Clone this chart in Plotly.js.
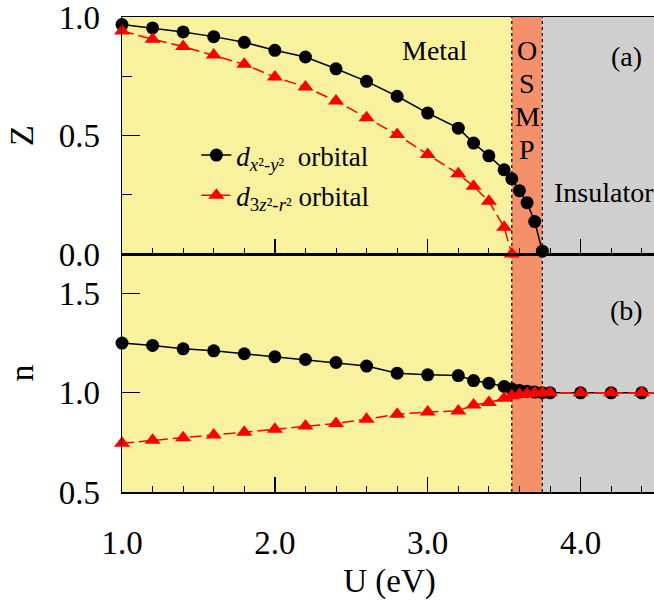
<!DOCTYPE html>
<html>
<head>
<meta charset="utf-8">
<script src="https://cdn.plot.ly/plotly-3.0.1.min.js"></script>
<style>html,body{margin:0;padding:0;overflow:hidden;background:#fff;}</style>
</head>
<body>
<div id="chart"></div>
<script>
// ---- data ----
const U_Z_dx = [1.0,1.2,1.4,1.6,1.8,2.0,2.2,2.4,2.6,2.8,3.0,3.2,3.3,3.4,3.5,3.55,3.6,3.65,3.7,3.75];
const Z_dx   = [0.970,0.956,0.939,0.919,0.895,0.861,0.833,0.783,0.730,0.667,0.596,0.532,0.469,0.415,0.356,0.318,0.268,0.217,0.137,0.012];
const U_Z_d3 = [1.0,1.2,1.4,1.6,1.8,2.0,2.2,2.4,2.6,2.8,3.0,3.2,3.3,3.4,3.5,3.55];
const Z_d3   = [0.943,0.908,0.877,0.841,0.802,0.748,0.706,0.647,0.576,0.505,0.421,0.339,0.286,0.223,0.113,0.0];

const U_n  = [1.0,1.2,1.4,1.6,1.8,2.0,2.2,2.4,2.6,2.8,3.0,3.2,3.3,3.4,3.5,3.55,3.6,3.65,3.7,3.75,3.8,4.0,4.2,4.4,4.6];
const n_dx = [1.251,1.239,1.222,1.212,1.197,1.182,1.168,1.153,1.135,1.099,1.091,1.087,1.062,1.049,1.032,1.019,1.012,1.008,1.004,1.001,1.0,1.0,1.0,1.0,1.0];
const n_d3 = [0.746,0.761,0.774,0.788,0.801,0.817,0.833,0.846,0.867,0.892,0.904,0.909,0.939,0.951,0.973,0.985,0.992,0.996,0.999,1.0,1.0,1.0,1.0,1.0,1.0];

const phaseBounds = [1.0, 3.55, 3.75, 4.6];   // Metal | OSMP | Insulator
const phaseColors = ['#F8F29E', '#F4916B', '#CFCFCF'];
const osmpLetters = ['O','S','M','P'];

const xTickVals = [1.0, 2.0, 3.0, 4.0];
const zTickVals = [0.0, 0.5, 1.0];
const nTickVals = [0.5, 1.0, 1.5];

const FONT = 'Liberation Serif, Times New Roman, serif';

const nameDx = '<i>d</i><sub><i>x</i>²-<i>y</i>²</sub>  orbital';
const nameD3 = '<i>d</i><sub>3<i>z</i>²-<i>r</i>²</sub> orbital';

const blackLine = {color:'#000', width:1.5};
const redLine = {color:'#FF0000', width:1.5, dash:'12px,5px'};
const circ = {symbol:'circle', size:13, color:'#000'};
const tri = {symbol:'triangle-up', size:14, color:'#FF0000'};

const traces = [
  {x:U_Z_dx, y:Z_dx, xaxis:'x', yaxis:'y', mode:'lines+markers', name:nameDx, line:blackLine, marker:circ, cliponaxis:false, legendgroup:'a'},
  {x:U_Z_d3, y:Z_d3, xaxis:'x', yaxis:'y', mode:'lines+markers', name:nameD3, line:redLine, marker:tri, cliponaxis:false, legendgroup:'b'},
  {x:U_n, y:n_dx, xaxis:'x2', yaxis:'y2', mode:'lines+markers', name:nameDx, line:blackLine, marker:circ, cliponaxis:false, showlegend:false},
  {x:U_n, y:n_d3, xaxis:'x2', yaxis:'y2', mode:'lines+markers', name:nameD3, line:redLine, marker:tri, cliponaxis:false, showlegend:false}
];

const shapes = [];
for (let i = 0; i < phaseColors.length; i++) {
  shapes.push({type:'rect', xref:'x', yref:'paper', x0:phaseBounds[i], x1:phaseBounds[i+1], y0:0, y1:1,
               fillcolor:phaseColors[i], line:{width:0}, layer:'below'});
}
[phaseBounds[1], phaseBounds[2]].forEach(b => {
  shapes.push({type:'line', xref:'x', yref:'paper', x0:b, x1:b, y0:0, y1:1,
               line:{color:'#000', width:1.2, dash:'dot'}, layer:'below'});
});

const xCommon = {
  range:[1, 4.5], showgrid:false, zeroline:false,
  showline:true, linecolor:'#000', linewidth:1.5, mirror:true,
  ticks:'inside', ticklen:15, tickwidth:1.3, tickcolor:'#000',
  tickmode:'array', tickvals:xTickVals,
  minor:{ticks:'inside', ticklen:6, dtick:0.2, tick0:0, tickcolor:'#000', tickwidth:1},
  tickformat:'.1f', tickfont:{family:FONT, size:33, color:'#000'}, ticklabeloverflow:'allow'
};

const annotations = [
  {text:'Metal', xref:'x', yref:'paper', x:3.05, y:1, yanchor:'middle', yshift:-33, showarrow:false, font:{size:28}},
  {text:'(a)', xref:'x', yref:'paper', x:4.3, y:1, yanchor:'middle', yshift:-39, showarrow:false, font:{size:28}},
  {text:'Insulator', xref:'x', yref:'y', x:4.15, y:0.26, showarrow:false, font:{size:28}},
  {text:'(b)', xref:'x', yref:'paper', x:4.3, y:0.501, yanchor:'middle', yshift:-56, showarrow:false, font:{size:28}}
];
osmpLetters.forEach((ch, i) => {
  annotations.push({text:ch, xref:'x', yref:'paper', x:(phaseBounds[1]+phaseBounds[2])/2, y:1,
                    yanchor:'middle', yshift:-33 - 33.3*i, showarrow:false, font:{size:28}});
});

const layout = {
  width:657, height:608,
  margin:{l:122, r:0, t:17, b:116},
  paper_bgcolor:'#fff', plot_bgcolor:'rgba(0,0,0,0)',
  font:{family:FONT, color:'#000'},
  showlegend:true,
  legend:{x:0.139, y:0.76, xanchor:'left', yanchor:'top', bgcolor:'rgba(0,0,0,0)',
          font:{family:FONT, size:27, color:'#000'}, tracegroupgap:2},
  xaxis: Object.assign({}, xCommon, {anchor:'y', showticklabels:false}),
  xaxis2: Object.assign({}, xCommon, {anchor:'y2', matches:'x', ticklabelstandoff:21,
          title:{text:'U (eV)', font:{family:FONT, size:33, color:'#000'}, standoff:9}}),
  yaxis: {domain:[0.501,1], range:[0,1.002], showgrid:false, zeroline:false,
          showline:true, linecolor:'#000', linewidth:1.5, mirror:true,
          ticks:'inside', ticklen:18, tickwidth:1.3, tickcolor:'#000',
          tickmode:'array', tickvals:zTickVals, ticklabeloverflow:'allow',
          minor:{ticks:'inside', ticklen:10, dtick:0.25, tick0:0, tickcolor:'#000', tickwidth:1},
          tickformat:'.1f', tickfont:{family:FONT, size:33, color:'#000'}, ticklabelstandoff:14,
          title:{text:'Z', font:{family:FONT, size:34, color:'#000'}, standoff:14}},
  yaxis2:{domain:[0,0.501], range:[0.5,1.7], showgrid:false, zeroline:false,
          showline:true, linecolor:'#000', linewidth:1.5, mirror:true,
          ticks:'inside', ticklen:18, tickwidth:1.3, tickcolor:'#000',
          tickmode:'array', tickvals:nTickVals, ticklabeloverflow:'allow',
          tickformat:'.1f', tickfont:{family:FONT, size:33, color:'#000'}, ticklabelstandoff:14,
          title:{text:'n', font:{family:FONT, size:34, color:'#000'}, standoff:14}},
  shapes: shapes,
  annotations: annotations
};

Plotly.newPlot('chart', traces, layout, {displayModeBar:false, staticPlot:true});
</script>
</body>
</html>
